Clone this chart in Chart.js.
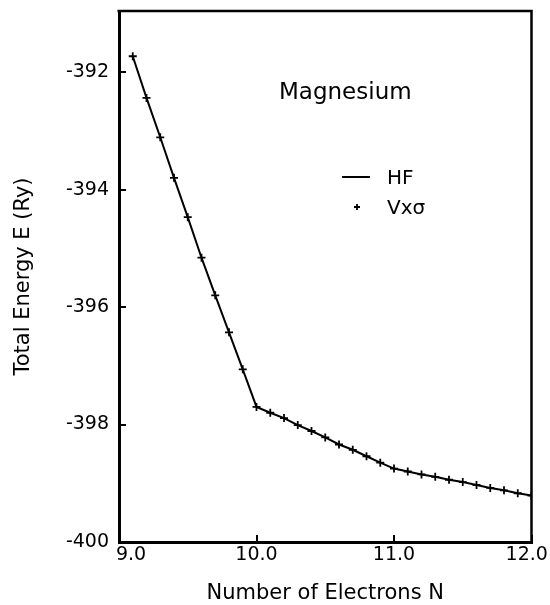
<!DOCTYPE html>
<html>
<head>
<meta charset="utf-8">
<script src="https://cdn.jsdelivr.net/npm/chart.js@4"></script>
<style>
  html, body { margin: 0; padding: 0; background: #ffffff; }
  #wrap { width: 550px; height: 605px; position: relative; }
</style>
</head>
<body>
<div id="wrap"><canvas id="c"></canvas></div>
<script>
// ---- data ----
const electrons = [9.1, 9.2, 9.3, 9.4, 9.5, 9.6, 9.7, 9.8, 9.9, 10.0,
                   10.1, 10.2, 10.3, 10.4, 10.5, 10.6, 10.7, 10.8, 10.9, 11.0,
                   11.1, 11.2, 11.3, 11.4, 11.5, 11.6, 11.7, 11.8, 11.9, 12.0];
const hfEnergy = [-391.73, -392.44, -393.11, -393.80, -394.47, -395.16, -395.80, -396.43, -397.06, -397.70,
                  -397.80, -397.89, -398.01, -398.11, -398.22, -398.34, -398.43, -398.54, -398.65, -398.75,
                  -398.80, -398.85, -398.89, -398.94, -398.98, -399.03, -399.08, -399.12, -399.17, -399.21];
const vxsEnergy = [-391.73, -392.44, -393.11, -393.80, -394.47, -395.16, -395.80, -396.43, -397.06, -397.70,
                   -397.80, -397.89, -398.01, -398.11, -398.22, -398.34, -398.43, -398.54, -398.65, -398.75,
                   -398.80, -398.85, -398.89, -398.94, -398.98, -399.03, -399.08, -399.12, -399.17, -399.21];
const seriesNames = ['HF', 'Vx\u03C3'];
const xTickValues = [9, 10, 11, 12];
const xTickLabels = ['9.0', '10.0', '11.0', '12.0'];
const yTickValues = [-400, -398, -396, -394, -392];
const yTickLabels = ['-400', '-398', '-396', '-394', '-392'];
const xRange = [9, 12];
const yRange = [-400, -390.96];
const chartTitle = 'Magnesium';
const xAxisTitle = 'Number of Electrons N';
const yAxisTitle = 'Total Energy E (Ry)';

// ---- styling ----
const FONT = 'DejaVu Sans';
const INK = '#000000';

const toPoints = (xs, ys) => xs.map((x, i) => ({ x: x, y: ys[i] }));

// frame: top and right edges of the plot box
const framePlugin = {
  id: 'frame',
  afterDraw(chart) {
    const { ctx, chartArea: a } = chart;
    ctx.save();
    ctx.strokeStyle = INK;
    ctx.lineWidth = 2.5;
    ctx.beginPath();
    ctx.moveTo(a.left - 1.5, a.top);
    ctx.lineTo(a.right, a.top);
    ctx.lineTo(a.right, a.bottom);
    ctx.stroke();
    ctx.restore();
  }
};

// in-plot title and legend
const notePlugin = {
  id: 'notes',
  afterDatasetsDraw(chart, args, opts) {
    const ctx = chart.ctx;
    const ds = chart.data.datasets;
    ctx.save();
    ctx.fillStyle = INK;
    ctx.strokeStyle = INK;
    ctx.textAlign = 'left';
    ctx.textBaseline = 'alphabetic';
    ctx.font = '23px "' + FONT + '"';
    ctx.fillText(chartTitle, opts.titleX, opts.titleY);

    ctx.font = '20px "' + FONT + '"';
    // HF: line sample
    ctx.lineWidth = 2;
    ctx.beginPath();
    ctx.moveTo(opts.lineX0, opts.row1);
    ctx.lineTo(opts.lineX1, opts.row1);
    ctx.stroke();
    ctx.fillText(ds[0].label, opts.textX, opts.row1 + 7);
    // Vxσ: cross sample
    const cx = (opts.lineX0 + opts.lineX1) / 2 + 1;
    ctx.lineWidth = 1.8;
    ctx.beginPath();
    ctx.moveTo(cx - 3, opts.row2);
    ctx.lineTo(cx + 3, opts.row2);
    ctx.moveTo(cx, opts.row2 - 3);
    ctx.lineTo(cx, opts.row2 + 3);
    ctx.stroke();
    ctx.fillText(ds[1].label, opts.textX, opts.row2 + 7);
    ctx.restore();
  }
};

new Chart(document.getElementById('c'), {
  type: 'scatter',
  data: {
    datasets: [
      {
        label: seriesNames[0],
        data: toPoints(electrons, hfEnergy),
        showLine: true,
        borderColor: INK,
        borderWidth: 2,
        pointRadius: 0,
        pointHoverRadius: 0,
        tension: 0,
        fill: false
      },
      {
        label: seriesNames[1],
        data: toPoints(electrons, vxsEnergy),
        showLine: false,
        pointStyle: 'cross',
        pointRadius: 4,
        pointBorderWidth: 1.8,
        borderColor: INK,
        backgroundColor: INK
      }
    ]
  },
  options: {
    responsive: true,
    maintainAspectRatio: false,
    animation: false,
    devicePixelRatio: 1,
    layout: { padding: { top: 11, right: 18.5, left: 0, bottom: 0 } },
    plugins: {
      legend: { display: false },
      tooltip: { enabled: false },
      notes: { titleX: 279, titleY: 98.5, lineX0: 342, lineX1: 370, row1: 177, row2: 207, textX: 387 }
    },
    scales: {
      x: {
        type: 'linear',
        min: xRange[0],
        max: xRange[1],
        afterBuildTicks: s => { s.ticks = xTickValues.map(v => ({ value: v })); },
        afterFit: s => { s.height = 63; s.paddingLeft = 0; s.paddingRight = 0; },
        ticks: {
          autoSkip: false,
          maxRotation: 0,
          padding: 9,
          color: INK,
          font: { family: FONT, size: 19 },
          callback: (v, i) => {
            const k = xTickValues.indexOf(v);
            const t = k >= 0 ? xTickLabels[k] : '';
            if (k === 0) return '\u2007\u2007' + t;
            if (k === xTickValues.length - 1) return t + '\u2002';
            return t;
          }
        },
        grid: { drawOnChartArea: false, drawTicks: true, tickLength: -7, color: INK, lineWidth: 2 },
        border: { display: true, color: INK, width: 3 },
        title: { display: true, text: xAxisTitle, color: INK, font: { family: FONT, size: 21 }, padding: { top: 0, bottom: -1 } }
      },
      y: {
        type: 'linear',
        min: yRange[0],
        max: yRange[1],
        afterBuildTicks: s => { s.ticks = yTickValues.map(v => ({ value: v })); },
        afterFit: s => { s.width = 119; s.paddingTop = 0; s.paddingBottom = 0; },
        ticks: {
          autoSkip: false,
          padding: 17,
          color: INK,
          font: { family: FONT, size: 19 },
          callback: v => {
            const k = yTickValues.indexOf(v);
            return k >= 0 ? yTickLabels[k] : '';
          }
        },
        grid: { drawOnChartArea: false, drawTicks: true, tickLength: -7, color: INK, lineWidth: 2 },
        border: { display: true, color: INK, width: 3 },
        title: { display: true, text: yAxisTitle, color: INK, font: { family: FONT, size: 21 }, padding: { top: 11, bottom: 0 } }
      }
    }
  },
  plugins: [framePlugin, notePlugin]
});
</script>
</body>
</html>
